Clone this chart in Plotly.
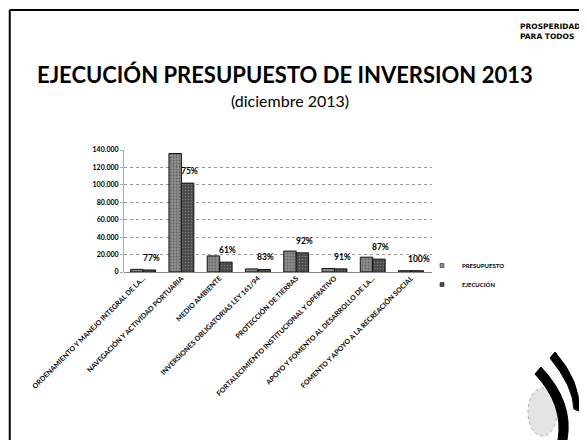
import plotly.graph_objects as go

# rubros de inversion (etiquetas tal como salen en el eje, truncadas)
categorias = [
    "ORDENAMIENTO Y MANEJO INTEGRAL DE LA...",
    "NAVEGACIÓN Y ACTIVIDAD PORTUARIA",
    "MEDIO AMBIENTE",
    "INVERSIONES OBLIGATORIAS LEY 161/94",
    "PROTECCIÓN DE TIERRAS",
    "FORTALECIMIENTO INSTITUCIONAL Y OPERATIVO",
    "APOYO Y FOMENTO AL DESARROLLO DE LA...",
    "FOMENTO Y APOYO A LA RECREACIÓN SOCIAL",
]
presupuesto = [3000, 136000, 18500, 3500, 24000, 4000, 17000, 1500]
ejecucion = [2300, 102000, 11300, 2900, 22000, 3600, 14800, 1500]
porcentajes = ["77%", "75%", "61%", "83%", "92%", "91%", "87%", "100%"]
y_ticks = [0, 20000, 40000, 60000, 80000, 100000, 120000, 140000]

W, H = 587, 440
FONT = "Lato"
OFF = 8  # la pagina deja 8 px de margen arriba y a la izquierda

COL_PRES = "#8f8f8f"
COL_EJEC = "#4a4a4a"


def px_x(x):
    return (x - OFF) / W


def px_y(y):
    return 1 - (y - OFF) / H


fig = go.Figure()
fig.add_trace(go.Bar(
    x=categorias, y=presupuesto, name="PRESUPUESTO", showlegend=False,
    marker=dict(color=COL_PRES, line=dict(color="#111", width=1),
                pattern=dict(shape=".", fgcolor="#333", size=3, solidity=0.3)),
))
fig.add_trace(go.Bar(
    x=categorias, y=ejecucion, name="EJECUCIÓN", showlegend=False,
    marker=dict(color=COL_EJEC, line=dict(color="#111", width=1),
                pattern=dict(shape=".", fgcolor="#bbb", size=3, solidity=0.2)),
))
# entradas de leyenda con marcador pequeño, como en la diapositiva
for nombre, col in [("PRESUPUESTO", COL_PRES), ("EJECUCIÓN", COL_EJEC)]:
    fig.add_trace(go.Scatter(x=[None], y=[None], mode="markers", name=nombre,
                             marker=dict(symbol="square", size=4, color=col,
                                         line=dict(color="#111", width=0.5))))

for cat, val, pct in zip(categorias, ejecucion, porcentajes):
    fig.add_annotation(x=cat, y=val, text=f"<b>{pct}</b>", showarrow=False,
                       xshift=8, yshift=12, font=dict(family=FONT, size=8.5, color="#000"))

# titulos de la diapositiva
fig.add_annotation(x=px_x(285), y=px_y(74), xref="paper", yref="paper", yanchor="middle",
                   text="EJECUCIÓN PRESUPUESTO DE INVERSION 2013", showarrow=False,
                   font=dict(family=FONT, size=22, color="#000", weight="bold"))
fig.add_annotation(x=px_x(290), y=px_y(100), xref="paper", yref="paper", yanchor="middle",
                   text="(diciembre 2013)", showarrow=False,
                   font=dict(family=FONT, size=16, color="#000"))
fig.add_annotation(x=px_x(582), y=px_y(21), xref="paper", yref="paper",
                   xanchor="right", yanchor="top", align="left",
                   text="<b>PROSPERIDAD<br>PARA TODOS</b>", showarrow=False,
                   borderpad=0, font=dict(family="DejaVu Sans", size=7.5, color="#000"))

# marco de la diapositiva
fig.add_shape(type="line", xref="paper", yref="paper",
              x0=0.003, x1=0.003, y0=px_y(10), y1=0,
              line=dict(color="#000", width=2))
fig.add_shape(type="line", xref="paper", yref="paper",
              x0=0.003, x1=1, y0=px_y(10), y1=px_y(10),
              line=dict(color="#000", width=2))


# logo inferior derecho (dos franjas curvas y circulo punteado)
def band(p):
    pts = [f"{px_x(x):.4f},{px_y(y):.4f}" for x, y in p]
    return ("M " + pts[0] + " Q " + pts[1] + " " + pts[2] + " L " + pts[3]
            + " Q " + pts[4] + " " + pts[5] + " Z")


fig.add_shape(type="circle", xref="paper", yref="paper",
              x0=px_x(528), x1=px_x(557), y0=px_y(388), y1=px_y(436),
              fillcolor="#e4e4e4", line=dict(color="#aaa", width=1, dash="dot"))
fig.add_shape(type="path", xref="paper", yref="paper", fillcolor="#000",
              line=dict(color="#000", width=1),
              path=band([(555, 352), (581, 382), (579, 411), (574, 409), (573, 386), (550, 358)]))
fig.add_shape(type="path", xref="paper", yref="paper", fillcolor="#000",
              line=dict(color="#000", width=1),
              path=band([(541, 367), (574, 402), (567, 440), (558, 440), (564, 405), (535, 374)]))

fig.update_layout(
    width=W, height=H,
    margin=dict(l=0, r=0, t=0, b=0),
    paper_bgcolor="#fff", plot_bgcolor="#fff",
    separators=",.",
    barmode="group", bargap=0.35, bargroupgap=0.0,
    showlegend=True,
    legend=dict(x=px_x(422), y=px_y(251), xanchor="left", yanchor="top",
                font=dict(family=FONT, size=6, color="#000", weight="bold"),
                itemwidth=30, tracegroupgap=0, bgcolor="rgba(0,0,0,0)"),
    font=dict(family=FONT),
    xaxis=dict(domain=[px_x(124), px_x(432)], tickangle=-45, automargin=False,
               tickfont=dict(family=FONT, size=7, color="#000", weight="bold"),
               showline=False, ticks=""),
    yaxis=dict(domain=[px_y(272), px_y(150)], range=[0, 140000], tickvals=y_ticks,
               tickformat=",d", automargin=False,
               tickfont=dict(family=FONT, size=7, color="#000", weight="bold"),
               showgrid=True, gridcolor="#999", griddash="dot", gridwidth=1,
               zeroline=True, zerolinecolor="#888", zerolinewidth=1,
               showline=True, linecolor="#aaa", ticks="outside", ticklen=3, tickcolor="#aaa"),
)

fig.write_html("out.html")
